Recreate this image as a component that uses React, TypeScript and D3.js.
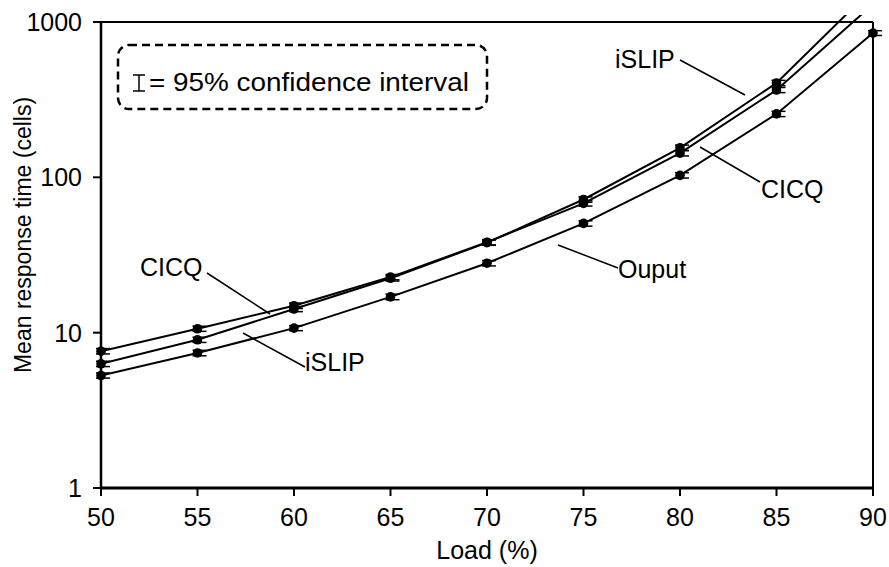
import React from "react";
import * as d3 from "d3";

const loads = [50, 55, 60, 65, 70, 75, 80, 85, 90];
const cicq = [7.6, 10.6, 14.9, 22.8, 38.2, 68, 143, 365, 1300];
const islip = [6.3, 9.0, 14.2, 22.4, 38.0, 72, 155, 405, 1650];
const output = [5.3, 7.4, 10.7, 17.0, 28.0, 50.5, 103, 256, 849];
const cicqCI = [0.3, 0.4, 0.6, 0.9, 1.5, 2.7, 5.7, 14, 50];
const islipCI = [0.25, 0.35, 0.55, 0.9, 1.5, 2.9, 6.2, 16, 60];
const outputCI = [0.2, 0.3, 0.4, 0.7, 1.1, 2.0, 4.1, 10, 30];
const xTicks = [50, 55, 60, 65, 70, 75, 80, 85, 90];
const yTicks = [1, 10, 100, 1000];

const W = 889, H = 567;
const L = 101, R = 873, T = 22, B = 488;
const FONT = "Liberation Sans, Arial, sans-serif";
const FS = 25;

export default function App() {
  const x = d3.scaleLinear().domain([50, 90]).range([L, R]);
  const y = d3.scaleLog().domain([1, 1000]).range([B, T]);
  const line = d3.line<number>().x((_, i) => x(loads[i])).y((d) => y(d));
  const series = [
    { vals: cicq, ci: cicqCI },
    { vals: islip, ci: islipCI },
    { vals: output, ci: outputCI },
  ];
  return (
    <svg width={W} height={H} style={{ position: "absolute", left: 0, top: 0, background: "#fff" }} fontFamily={FONT}>
      <defs>
        <clipPath id="clip">
          <rect x={L} y={15} width={R - L + 10} height={B - 15} />
        </clipPath>
      </defs>
      <rect width={W} height={H} fill="#fff" />
      {/* frame */}
      <line x1={L} y1={T} x2={R} y2={T} stroke="#000" strokeWidth={2} />
      <line x1={R} y1={T} x2={R} y2={B} stroke="#000" strokeWidth={2} />
      <line x1={L} y1={T} x2={L} y2={B} stroke="#000" strokeWidth={2.5} />
      <line x1={L} y1={B} x2={R} y2={B} stroke="#000" strokeWidth={3} />
      {yTicks.map((t) => (
        <g key={t}>
          <line x1={L - 8} x2={L} y1={y(t)} y2={y(t)} stroke="#000" strokeWidth={2} />
          <text x={82} y={y(t) + 9} textAnchor="end" fontSize={FS}>{t}</text>
        </g>
      ))}
      {xTicks.map((t) => (
        <g key={t}>
          <line x1={x(t)} x2={x(t)} y1={B} y2={B + 8} stroke="#000" strokeWidth={2} />
          <text x={x(t)} y={B + 38} textAnchor="middle" fontSize={FS}>{t}</text>
        </g>
      ))}
      <text x={x(70)} y={B + 71} textAnchor="middle" fontSize={FS}>Load (%)</text>
      <text transform={`translate(${31},${235}) rotate(-90)`} textAnchor="middle" fontSize={23}>
        Mean response time (cells)
      </text>
      {/* series */}
      <g clipPath="url(#clip)">
        {series.map((s, k) => (
          <path key={k} d={line(s.vals) || ""} fill="none" stroke="#000" strokeWidth={2} />
        ))}
      </g>
      {series.map((s, k) => (
        <g key={k}>
          {s.vals.map((v, i) => {
            if (y(v) < T - 1) return null;
            const cx = x(loads[i]);
            const hi = y(v + s.ci[i]);
            const lo = y(v - s.ci[i]);
            return (
              <g key={i}>
                <line x1={cx} x2={cx} y1={hi} y2={lo} stroke="#000" strokeWidth={1.5} />
                <line x1={cx - 5} x2={cx + 9} y1={hi} y2={hi} stroke="#000" strokeWidth={1.5} />
                <line x1={cx - 5} x2={cx + 9} y1={lo} y2={lo} stroke="#000" strokeWidth={1.5} />
                <circle cx={cx} cy={y(v)} r={4.8} fill="#000" />
              </g>
            );
          })}
        </g>
      ))}
      {/* legend box */}
      <rect x={118} y={45} width={369} height={64} rx={11} fill="none" stroke="#000" strokeWidth={2.5} strokeDasharray="8,5" />
      <g stroke="#000" strokeWidth={1.5}>
        <line x1={139} x2={139} y1={75} y2={91} />
        <line x1={133} x2={145} y1={75} y2={75} />
        <line x1={133} x2={145} y1={91} y2={91} />
      </g>
      <text x={149} y={91} fontSize={26} textLength={320} lengthAdjust="spacingAndGlyphs">= 95% confidence interval</text>
      {/* annotations */}
      <g stroke="#000" strokeWidth={1.5}>
        <line x1={207} y1={273} x2={270} y2={314} />
        <line x1={243} y1={333} x2={305} y2={367} />
        <line x1={680} y1={60} x2={745} y2={95} />
        <line x1={700} y1={147} x2={760} y2={182} />
        <line x1={558} y1={245} x2={618} y2={268} />
      </g>
      <text x={140} y={276} fontSize={FS}>CICQ</text>
      <text x={305} y={371} fontSize={FS}>iSLIP</text>
      <text x={615} y={68} fontSize={FS}>iSLIP</text>
      <text x={761} y={198} fontSize={FS}>CICQ</text>
      <text x={618} y={278} fontSize={FS}>Ouput</text>
    </svg>
  );
}
